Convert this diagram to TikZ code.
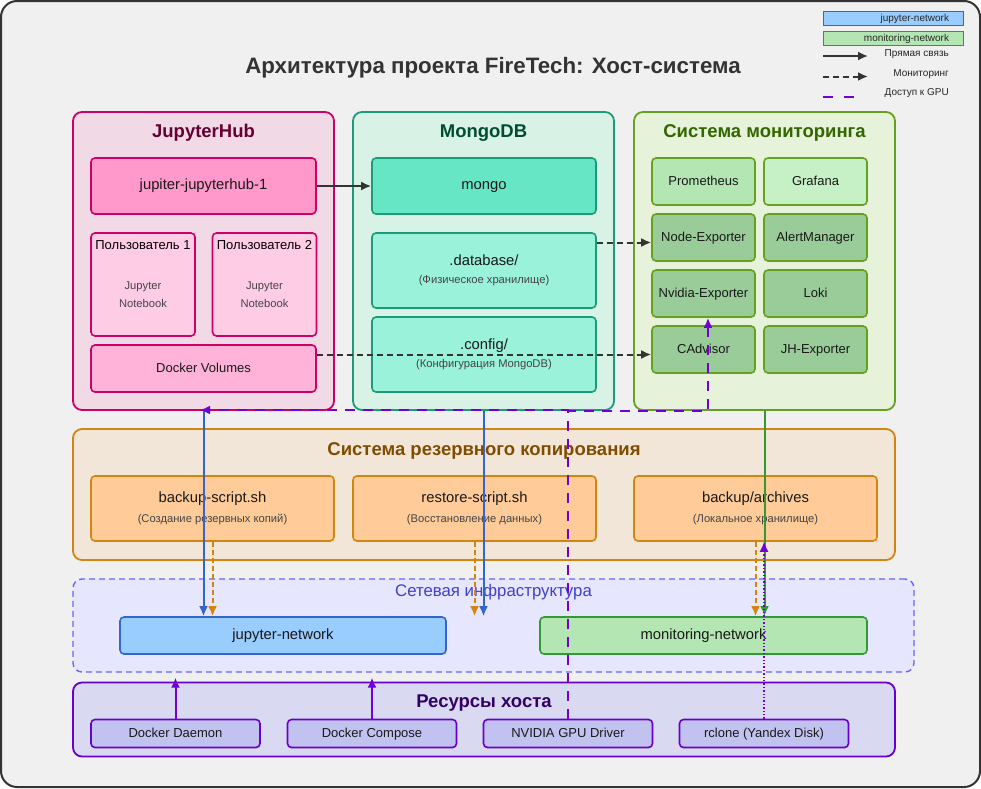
\documentclass[tikz,border=0pt]{standalone}
\usepackage{fontspec}
\setmainfont{Liberation Sans}
\usepackage{tikz}
\usetikzlibrary{positioning, arrows.meta}
\definecolor{bgcol}{HTML}{F0F0F0}
\definecolor{framecol}{HTML}{333333}
\definecolor{hubfill}{HTML}{F2D9E6}
\definecolor{hubline}{HTML}{CC0066}
\definecolor{hubtitle}{HTML}{660033}
\definecolor{hubnode}{HTML}{FF99CC}
\definecolor{userfill}{HTML}{FFCCE6}
\definecolor{volfill}{HTML}{FFB3D9}
\definecolor{mdbfill}{HTML}{D9F2E6}
\definecolor{mdbline}{HTML}{1A9C7A}
\definecolor{mdbtitle}{HTML}{004D33}
\definecolor{mdbnode}{HTML}{66E6C4}
\definecolor{dbfill}{HTML}{99F2D9}
\definecolor{monfill}{HTML}{E6F2D9}
\definecolor{monline}{HTML}{66A020}
\definecolor{montitle}{HTML}{336600}
\definecolor{promfill}{HTML}{B3E6B3}
\definecolor{graffill}{HTML}{C6F0C6}
\definecolor{expfill}{HTML}{99CC99}
\definecolor{bakfill}{HTML}{F2E6D9}
\definecolor{bakline}{HTML}{D4850F}
\definecolor{baktitle}{HTML}{804D00}
\definecolor{baknode}{HTML}{FFCC99}
\definecolor{netfill}{HTML}{E6E6FF}
\definecolor{netline}{HTML}{6666FF}
\definecolor{nettitle}{HTML}{4040CC}
\definecolor{jnetfill}{HTML}{99CCFF}
\definecolor{jnetline}{HTML}{3366CC}
\definecolor{mnetfill}{HTML}{B3E6B3}
\definecolor{mnetline}{HTML}{339933}
\definecolor{hostfill}{HTML}{D9D9F2}
\definecolor{hostline}{HTML}{6600CC}
\definecolor{hosttitle}{HTML}{330066}
\definecolor{hostnode}{HTML}{C2C2F0}
\definecolor{gpucol}{HTML}{6F00D6}
\definecolor{subcol}{HTML}{444444}

\begin{document}
\begin{tikzpicture}[x=1pt, y=-1pt,
    grp/.style={draw, rounded corners=9pt, line width=1.8pt, inner sep=0pt},
    box/.style={draw, rounded corners=4pt, line width=1.6pt, align=center, inner sep=0pt, text=black!90},
    grptitle/.style={font=\fontsize{18.5}{22}\selectfont\bfseries},
    big/.style={font=\fontsize{14.8}{17}\selectfont, text height=0.72em, text depth=0pt},
    mid/.style={font=\fontsize{13}{15}\selectfont, text height=0.72em, text depth=0pt},
    legtxt/.style={font=\fontsize{10}{12}\selectfont, text=black!85},
    link/.style={-{Latex[length=10pt, width=9pt]}, line width=2pt}
  ]
    \useasboundingbox (0,0) rectangle (981,788);
    \draw[fill=bgcol, draw=framecol, line width=2pt, rounded corners=16pt] (1,1) rectangle (980,787);

    % title and legend
    \node[font=\fontsize{22.3}{26}\selectfont\bfseries, text=framecol] (title) at (493,68) {Архитектура проекта FireTech: Хост-система};
    \node[draw=jnetline, fill=jnetfill, line width=1pt, minimum width=140, minimum height=14, inner sep=0pt, text width=112, align=right, legtxt] (legj) at (893,18.5) {jupyter-network};
    \node[draw=mnetline, fill=mnetfill, line width=1pt, minimum width=140, minimum height=14, inner sep=0pt, text width=112, align=right, legtxt] (legm) at (893,38.5) {monitoring-network};
    \draw[link, framecol] (823,56) -- (868,56);
    \node[legtxt, anchor=east, inner sep=0pt] at (949,54) {Прямая связь};
    \draw[link, framecol, dash pattern=on 6pt off 4pt] (823,76.5) -- (868,76.5);
    \node[legtxt, anchor=east, inner sep=0pt] at (949,74) {Мониторинг};
    \draw[gpucol, line width=2.5pt, dash pattern=on 10pt off 11pt] (823,97) -- (856,97);
    \node[legtxt, anchor=east, inner sep=0pt] at (949,93) {Доступ к GPU};

    % JupyterHub
    \node[grp, draw=hubline, fill=hubfill, minimum width=261, minimum height=298] (hub) at (203.5,261) {};
    \node[grptitle, text=hubtitle] at (203.5,133) {JupyterHub};
    \node[box, draw=hubline, fill=hubnode, minimum width=225, minimum height=56, big] (hub1) at (203.5,186) {jupiter-jupyterhub-1};
    \node[box, draw=hubline, fill=userfill, minimum width=104, minimum height=103] (user1) at (143,284.5) {};
    \node[box, draw=hubline, fill=userfill, minimum width=104, minimum height=103] (user2) at (264.5,284.5) {};
    \node[font=\fontsize{13}{15}\selectfont, below=4.5pt of user1.north] {Пользователь 1};
    \node[font=\fontsize{13}{15}\selectfont, below=4.5pt of user2.north] {Пользователь 2};
    \node[align=center, text=subcol, font=\fontsize{11.2}{18.5}\selectfont] at ([yshift=-10pt]user1.center) {Jupyter\\Notebook};
    \node[align=center, text=subcol, font=\fontsize{11.2}{18.5}\selectfont] at ([yshift=-10pt]user2.center) {Jupyter\\Notebook};
    \node[box, draw=hubline, fill=volfill, minimum width=225, minimum height=47, mid] (vol) at (203.5,368.5) {Docker Volumes};

    % MongoDB
    \node[grp, draw=mdbline, fill=mdbfill, minimum width=261, minimum height=298] (mdb) at (483.5,261) {};
    \node[grptitle, text=mdbtitle] at (483.5,133) {MongoDB};
    \node[box, draw=mdbline, fill=mdbnode, minimum width=224, minimum height=56, big] (mongo) at (484,186) {mongo};
    \node[box, draw=mdbline, fill=dbfill, minimum width=224, minimum height=75] (db) at (484,270.5) {\fontsize{14.8}{17}\selectfont .database/\\[6pt]{\fontsize{11.2}{13}\selectfont\color{subcol}(Физическое хранилище)}};
    \node[box, draw=mdbline, fill=dbfill, minimum width=224, minimum height=75] (cfg) at (484,354.5) {\fontsize{14.8}{17}\selectfont .config/\\[6pt]{\fontsize{11.2}{13}\selectfont\color{subcol}(Конфигурация MongoDB)}};

    % monitoring
    \node[grp, draw=monline, fill=monfill, minimum width=261, minimum height=298] (mon) at (764.5,261) {};
    \node[grptitle, text=montitle] at (764.5,133) {Система мониторинга};
    \node[box, draw=monline, fill=promfill, minimum width=103, minimum height=47, mid] (prom) at (703.5,181.5) {Prometheus};
    \node[box, draw=monline, fill=graffill, minimum width=103, minimum height=47, mid] (graf) at (815.5,181.5) {Grafana};
    \node[box, draw=monline, fill=expfill, minimum width=103, minimum height=47, mid] (nodeexp) at (703.5,237.5) {Node-Exporter};
    \node[box, draw=monline, fill=expfill, minimum width=103, minimum height=47, mid] (alert) at (815.5,237.5) {AlertManager};
    \node[box, draw=monline, fill=expfill, minimum width=103, minimum height=47, mid] (nvexp) at (703.5,293.5) {Nvidia-Exporter};
    \node[box, draw=monline, fill=expfill, minimum width=103, minimum height=47, mid] (loki) at (815.5,293.5) {Loki};
    \node[box, draw=monline, fill=expfill, minimum width=103, minimum height=47, mid] (cadv) at (703.5,349.5) {CAdvisor};
    \node[box, draw=monline, fill=expfill, minimum width=103, minimum height=47, mid] (jhexp) at (815.5,349.5) {JH-Exporter};

    % backup
    \node[grp, draw=bakline, fill=bakfill, minimum width=822, minimum height=131] (bak) at (484,494.5) {};
    \node[grptitle, text=baktitle] at (484,451) {Система резервного копирования};
    \node[box, draw=bakline, fill=baknode, minimum width=243, minimum height=65] (bscript) at (212.5,508.5) {\fontsize{14.8}{17}\selectfont backup-script.sh\\[8pt]{\fontsize{11.2}{13}\selectfont\color{subcol}(Создание резервных копий)}};
    \node[box, draw=bakline, fill=baknode, minimum width=243, minimum height=65] (rscript) at (474.5,508.5) {\fontsize{14.8}{17}\selectfont restore-script.sh\\[8pt]{\fontsize{11.2}{13}\selectfont\color{subcol}(Восстановление данных)}};
    \node[box, draw=bakline, fill=baknode, minimum width=243, minimum height=65] (archive) at (755.5,508.5) {\fontsize{14.8}{17}\selectfont backup/archives\\[8pt]{\fontsize{11.2}{13}\selectfont\color{subcol}(Локальное хранилище)}};

    % network
    \node[grp, draw=netline, fill=netfill, dash pattern=on 6pt off 4pt, line width=1.4pt, minimum width=841, minimum height=93] (net) at (493.5,625.5) {};
    \node[font=\fontsize{16.8}{20}\selectfont, text=nettitle] at (493.5,592) {Сетевая инфраструктура};
    \node[box, draw=jnetline, fill=jnetfill, minimum width=326, minimum height=37, big] (jnet) at (283,635.5) {jupyter-network};
    \node[box, draw=mnetline, fill=mnetfill, minimum width=327, minimum height=37, big] (mnet) at (703.5,635.5) {monitoring-network};

    % host
    \node[grp, draw=hostline, fill=hostfill, minimum width=822, minimum height=74] (host) at (484,719.5) {};
    \node[grptitle, text=hosttitle] at (484,703) {Ресурсы хоста};
    \node[box, draw=hostline, fill=hostnode, minimum width=169, minimum height=28, mid] (daemon) at (175.5,733.5) {Docker Daemon};
    \node[box, draw=hostline, fill=hostnode, minimum width=169, minimum height=28, mid] (compose) at (372,733.5) {Docker Compose};
    \node[box, draw=hostline, fill=hostnode, minimum width=169, minimum height=28, mid] (gpu) at (568,733.5) {NVIDIA GPU Driver};
    \node[box, draw=hostline, fill=hostnode, minimum width=169, minimum height=28, mid] (rclone) at (764,733.5) {rclone (Yandex Disk)};

    % links
    \draw[link, framecol] (hub1) -- (mongo);
    \draw[link, framecol, dash pattern=on 6pt off 4pt] ([yshift=-5pt]db.east |- nodeexp.west) -- ([yshift=-5pt]nodeexp.west);
    \draw[link, framecol, dash pattern=on 6pt off 4pt] ([yshift=-5pt]vol.east |- cadv.west) -- ([yshift=-5pt]cadv.west);
    \draw[link, jnetline] (hub.south) -- (hub.south |- jnet.north);
    \draw[link, jnetline] (mdb.south) -- (mdb.south |- jnet.north);
    \draw[link, mnetline] (mon.south) -- (mon.south |- mnet.north);
    \draw[link, bakline, dash pattern=on 5pt off 3pt] (bscript.south) -- (bscript.south |- jnet.north);
    \draw[link, bakline, dash pattern=on 5pt off 3pt] (rscript.south) -- (rscript.south |- jnet.north);
    \draw[link, bakline, dash pattern=on 5pt off 3pt] (archive.south) -- (archive.south |- mnet.north);
    \draw[link, gpucol, line width=1.4pt, dotted] (rclone.north) -- (rclone.north |- archive.south);
    \draw[link, gpucol, shorten >=-4pt] (daemon.north) -- (daemon.north |- host.north);
    \draw[link, gpucol, shorten >=-4pt] (compose.north) -- (compose.north |- host.north);
    \coordinate (gpuhub) at (200,410);
    \draw[link, gpucol, line width=2.2pt, dash pattern=on 10pt off 8pt] (gpu.north) |- (gpuhub);
    \draw[link, gpucol, line width=2.2pt, dash pattern=on 10pt off 8pt] (gpu.north) |- ([xshift=4.5pt]nvexp.south |- mon.south) -- ([xshift=4.5pt]nvexp.south);
  \end{tikzpicture}
\end{document}
